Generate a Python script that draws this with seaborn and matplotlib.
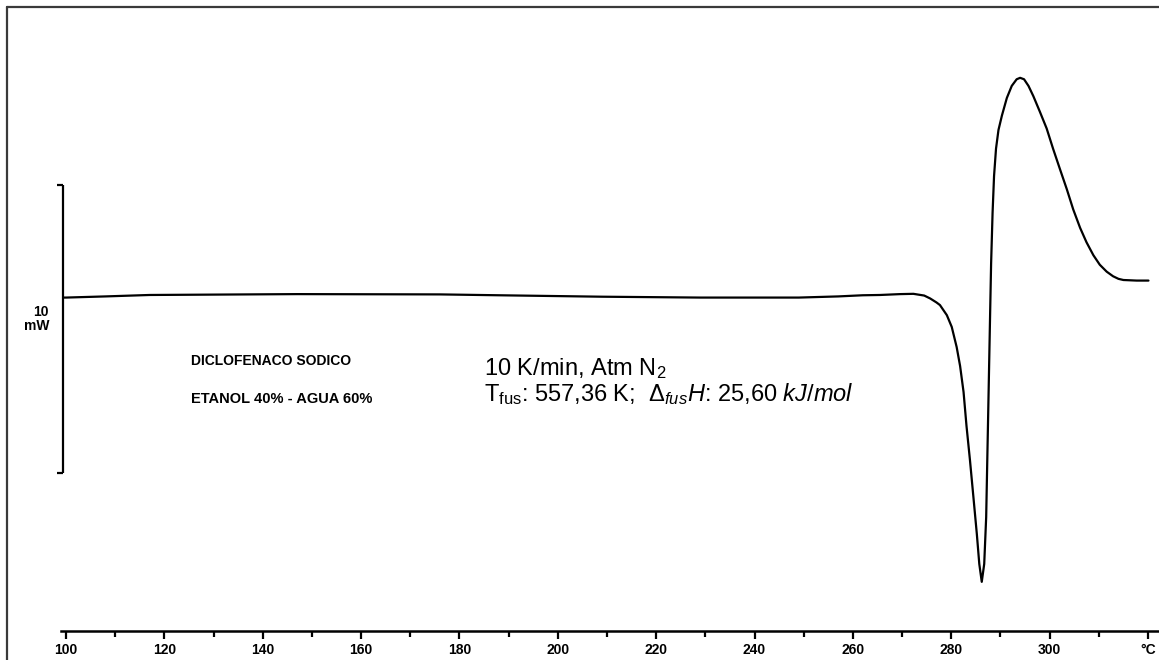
import matplotlib
matplotlib.use("Agg")
import matplotlib.pyplot as plt
from matplotlib.lines import Line2D
import numpy as np
import pandas as pd
import seaborn as sns

# ---- data ----
temperature_c = [99.4, 100.0, 108.0, 117.0, 147.0, 176.0, 188.0, 209.0, 229.0, 249.0, 257.0, 262.0,
                 265.5, 269.6, 272.3, 274.5, 275.7, 277.0, 277.7, 279.1, 280.1, 281.1, 281.8,
                 282.5, 283.1, 283.8, 284.5, 285.2, 285.7, 286.2, 286.7, 287.1, 287.3, 287.5,
                 287.7, 287.9, 288.1, 288.4, 288.7, 289.1, 289.6, 290.3, 291.3, 292.3, 293.3,
                 294.0, 294.8, 295.7, 296.7, 298.0, 299.4, 300.7, 302.1, 303.5, 304.8, 306.2,
                 307.5, 308.9, 310.2, 311.6, 312.9, 314.0, 315.0, 317.7, 320.1]
heat_flow_mw = [-0.02, -0.02, 0.02, 0.07, 0.10, 0.09, 0.06, 0.01, -0.02, -0.02, 0.02, 0.06,
                0.07, 0.10, 0.11, 0.05, -0.05, -0.19, -0.28, -0.63, -1.04, -1.74, -2.40,
                -3.30, -4.48, -5.66, -6.94, -8.23, -9.27, -9.89, -9.27, -7.64, -5.87, -4.13,
                -2.36, -0.59, 1.15, 2.92, 4.20, 5.15, 5.80, 6.30, 6.91, 7.33, 7.56,
                7.61, 7.56, 7.33, 6.97, 6.44, 5.85, 5.15, 4.44, 3.74, 3.04, 2.40,
                1.90, 1.45, 1.12, 0.88, 0.72, 0.63, 0.59, 0.57, 0.57]

major_ticks = [100, 120, 140, 160, 180, 200, 220, 240, 260, 280, 300, 320]
major_labels = ["100", "120", "140", "160", "180", "200", "220", "240", "260", "280", "300", "°C"]
minor_ticks = [110, 130, 150, 170, 190, 210, 230, 250, 270, 290, 310]

scale_bar_mw = 10.0
scale_bar_top = 3.89
scale_bar_x = 99.39

sample_name = "DICLOFENACO SODICO"
solvent = "ETANOL 40% - AGUA 60%"
conditions = "10 K/min, Atm N$_2$"
results = r"T$_{\rm fus}$: 557,36 K;  $\it{Δ_{fus}H}$: 25,60 $\it{kJ/mol}$"

# ---- style ----
sns.set_theme(style="white")
plt.rcParams["font.family"] = ["Liberation Sans", "DejaVu Sans"]
plt.rcParams["text.color"] = "black"
plt.rcParams["mathtext.fontset"] = "custom"
plt.rcParams["mathtext.rm"] = "Liberation Sans"
plt.rcParams["mathtext.it"] = "Liberation Sans:italic"
plt.rcParams["mathtext.bf"] = "Liberation Sans:bold"

W, H = 1159, 660
fig = plt.figure(figsize=(W / 100, H / 100), dpi=100)
fig.patch.set_facecolor("white")

ax = fig.add_axes([61 / W, 29 / H, 1098 / W, 624 / H])
ax.set_facecolor("white")

df = pd.DataFrame({"T": temperature_c, "Q": heat_flow_mw})
sns.lineplot(data=df, x="T", y="Q", ax=ax, color="black", linewidth=1.6,
             estimator=None, sort=False, legend=False)

ax.set_xlim(98.98, 322.24)
ax.set_ylim(-11.597, 10.069)
ax.set_xlabel("")
ax.set_ylabel("")

for s in ["left", "top", "right"]:
    ax.spines[s].set_visible(False)
ax.spines["bottom"].set_color("black")
ax.spines["bottom"].set_linewidth(1.8)

ax.set_xticks(major_ticks)
ax.set_xticklabels(major_labels, fontsize=10, fontweight="bold", color="black")
ax.set_xticks(minor_ticks, minor=True)
ax.tick_params(axis="x", which="major", direction="out", length=6, width=1.6,
               color="black", pad=2.5, bottom=True, labelcolor="black")
ax.tick_params(axis="x", which="minor", direction="out", length=4, width=1.6,
               color="black", bottom=True)
ax.set_yticks([])

# scale bar (10 mW)
bar_bottom = scale_bar_top - scale_bar_mw
ax.plot([scale_bar_x, scale_bar_x], [bar_bottom, scale_bar_top], color="black",
        lw=1.6, clip_on=False, solid_capstyle="butt")
for yv in (bar_bottom, scale_bar_top):
    ax.plot([scale_bar_x - 1.25, scale_bar_x], [yv, yv], color="black",
            lw=1.6, clip_on=False, solid_capstyle="butt")

fig.text(49 / W, 1 - 319 / H, "10\nmW", ha="right", va="center", multialignment="right",
         fontsize=10, fontweight="bold", linespacing=1.05, color="black")

fig.text(191 / W, 1 - 361 / H, sample_name, ha="left", va="center", fontsize=10,
         fontweight="bold", color="black")
fig.text(191 / W, 1 - 399 / H, solvent, ha="left", va="center", fontsize=10.5,
         fontweight="bold", color="black")
fig.text(484 / W, 1 - 369 / H, conditions, ha="left", va="center", fontsize=17, color="black")
fig.text(484 / W, 1 - 394 / H, results, ha="left", va="center", fontsize=17, color="black")

# outer frame (top and left)
fig.add_artist(Line2D([7 / W, 1.0], [1 - 7 / H, 1 - 7 / H], color="#3a3a3a", lw=1.6,
                      transform=fig.transFigure))
fig.add_artist(Line2D([7 / W, 7 / W], [0, 1 - 7 / H], color="#3a3a3a", lw=1.6,
                      transform=fig.transFigure))

fig.savefig("out.png", dpi=100, facecolor="white")
